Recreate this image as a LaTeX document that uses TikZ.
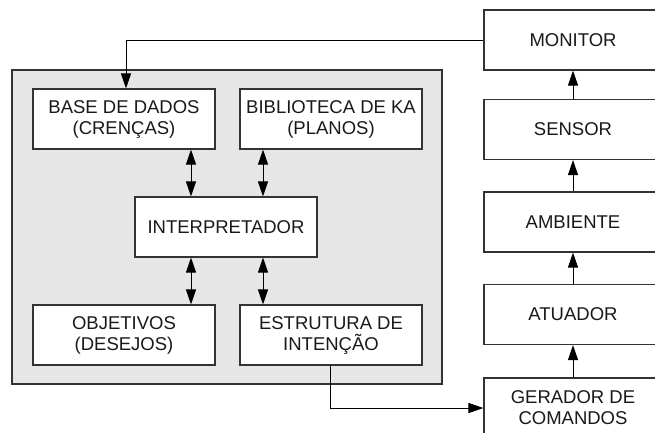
\documentclass[tikz,border=0pt]{standalone}
\usepackage{fontspec}
\setmainfont{Liberation Sans}
\usetikzlibrary{arrows.meta,calc}
\definecolor{panelgray}{HTML}{E6E6E6}
\definecolor{linegray}{HTML}{333333}
\begin{document}
\begin{tikzpicture}[x=1pt,y=-1pt,
  box/.style={draw=linegray, line width=1.1pt, fill=white, minimum width=182pt, minimum height=60pt,
    inner sep=0pt, align=center, font=\fontsize{18.5}{21}\selectfont, text=black!90},
  rbox/.style={box, minimum width=178pt},
  conn/.style={draw=black, line width=1pt},
  arr/.style={conn, -{Triangle[length=15pt,width=10pt]}},
  dbl/.style={conn, {Triangle[length=15pt,width=10pt]}-{Triangle[length=15pt,width=10pt]}}]
\useasboundingbox (0,0) rectangle (655,432);
\node[draw=linegray, line width=1.1pt, fill=panelgray, minimum width=430pt, minimum height=314pt, inner sep=0pt] (panel) at (227,227) {};
\node[box] (base) at (124,119) {BASE DE DADOS\\(CRENÇAS)};
\node[box] (bib) at (331,119) {BIBLIOTECA DE KA\\(PLANOS)};
\node[box] (interp) at (226,227) {INTERPRETADOR};
\node[box] (obj) at (124,335) {OBJETIVOS\\(DESEJOS)};
\node[box] (estr) at (331,335) {ESTRUTURA DE\\INTENÇÃO};
\node[rbox] (monitor) at (573,40) {MONITOR};
\node[rbox] (sensor) at (573,129.5) {SENSOR};
\node[rbox] (ambiente) at (573,222) {AMBIENTE};
\node[rbox] (atuador) at (573,314.5) {ATUADOR};
\node[rbox] (gerador) at (573,408) {GERADOR DE\\COMANDOS};
\coordinate (c1) at (191,0);
\coordinate (c2) at (263,0);
\coordinate (cm) at (126,0);
\coordinate (ce) at (330,0);
\draw[dbl] (base.south -| c1) -- (interp.north -| c1);
\draw[dbl] (bib.south -| c2) -- (interp.north -| c2);
\draw[dbl] (interp.south -| c1) -- (obj.north -| c1);
\draw[dbl] (interp.south -| c2) -- (estr.north -| c2);
\draw[arr] (monitor.west) -| (base.north -| cm);
\draw[arr] (estr.south -| ce) |- (gerador.west);
\draw[arr] (gerador.north) -- (atuador.south);
\draw[arr] (atuador.north) -- (ambiente.south);
\draw[arr] (ambiente.north) -- (sensor.south);
\draw[arr] (sensor.north) -- (monitor.south);
\end{tikzpicture}
\end{document}
